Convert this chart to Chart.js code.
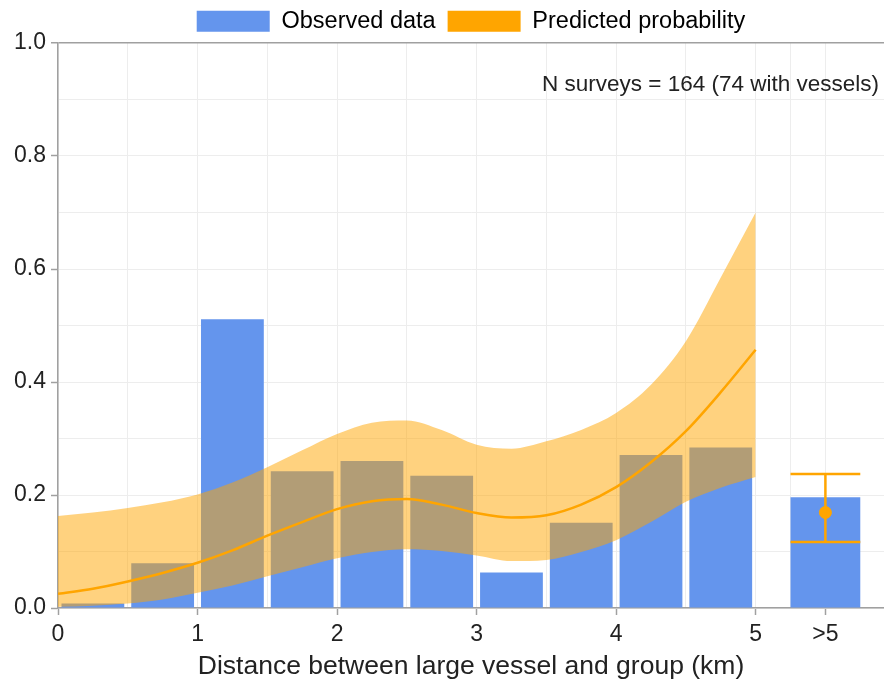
<!DOCTYPE html>
<html>
<head>
<meta charset="utf-8">
<script src="https://cdn.jsdelivr.net/npm/chart.js@4/dist/chart.umd.min.js"></script>
<style>
  html, body { margin: 0; padding: 0; background: #fff; }
  #wrap { width: 884px; height: 687px; }
</style>
</head>
<body>
<div id="wrap"><canvas id="c" width="884" height="687"></canvas></div>
<script>
// Observed proportion of surveys with a vessel, binned by distance (0.5 km bins)
const binCenters = [0.25, 0.75, 1.25, 1.75, 2.25, 2.75, 3.25, 3.75, 4.25, 4.75];
const observed   = [0.008, 0.079, 0.511, 0.242, 0.260, 0.234, 0.063, 0.151, 0.271, 0.284];

// Surveys beyond 5 km, shown as a separate category
const overPosition = 5.5;
const overHalfWidth = 0.25;
const overObserved = 0.196;
const overPredicted = 0.169;
const overLower = 0.117;
const overUpper = 0.237;

// Fitted curve with its confidence band
const curveX    = [0, 0.25, 0.5, 0.75, 1, 1.25, 1.5, 1.75, 2, 2.25, 2.5, 2.75, 3, 3.25, 3.5, 3.75, 4, 4.25, 4.5, 4.75, 5];
const predicted = [0.025, 0.034, 0.047, 0.062, 0.080, 0.102, 0.128, 0.152, 0.175, 0.189, 0.193, 0.183, 0.168, 0.160, 0.164, 0.183, 0.214, 0.258, 0.313, 0.382, 0.457];
const upperCI   = [0.163, 0.169, 0.177, 0.187, 0.201, 0.222, 0.249, 0.279, 0.308, 0.328, 0.332, 0.315, 0.289, 0.282, 0.295, 0.315, 0.345, 0.395, 0.472, 0.585, 0.700];
const lowerCI   = [0.002, 0.004, 0.008, 0.015, 0.027, 0.040, 0.056, 0.072, 0.088, 0.099, 0.104, 0.101, 0.093, 0.083, 0.085, 0.099, 0.120, 0.152, 0.188, 0.213, 0.232];

// X axis: grid positions and the labels shown at some of them
const xGridValues = [0, 0.5, 1, 1.5, 2, 2.5, 3, 3.5, 4, 4.5, 5, 5.25, 5.5];
const xTickLabels = { 0: '0', 1: '1', 2: '2', 3: '3', 4: '4', 5: '5', 5.5: '>5' };

const legendLabels = ['Observed data', 'Predicted probability'];
const noteText = 'N surveys = 164 (74 with vessels)';
const xTitle = 'Distance between large vessel and group (km)';

const BLUE = '#6495ED';
const ORANGE = '#FFA500';
const BAND = 'rgba(255,165,0,0.5)';
const AXIS = '#a0a0a0';
const GRID = '#ededed';
const TEXT = '#222222';
const FONT = "'Liberation Sans', Arial, sans-serif";

const pts = (xs, ys) => xs.map((x, i) => ({ x, y: ys[i] }));

// Survey count note in the top right corner of the plot
const notePlugin = {
  id: 'note',
  afterDraw(chart) {
    const { ctx, chartArea } = chart;
    ctx.save();
    ctx.font = '22.5px ' + FONT;
    ctx.fillStyle = TEXT;
    ctx.textAlign = 'right';
    ctx.textBaseline = 'middle';
    ctx.fillText(noteText, chartArea.right - 5, chartArea.top + 42);
    ctx.restore();
  }
};

new Chart(document.getElementById('c'), {
  type: 'bar',
  data: {
    datasets: [
      {
        label: legendLabels[0],
        data: pts(binCenters, observed),
        backgroundColor: BLUE,
        grouped: false,
        // tick spacing near ">5" is 0.25, so widths are relative to that
        categoryPercentage: 1,
        barPercentage: 1.8,
        order: 5
      },
      {
        label: '>5',
        data: [{ x: overPosition, y: overObserved }],
        backgroundColor: BLUE,
        grouped: false,
        categoryPercentage: 1,
        barPercentage: 2,
        order: 5
      },
      {
        type: 'line',
        label: 'upper',
        data: pts(curveX, upperCI),
        borderWidth: 0,
        borderColor: 'rgba(0,0,0,0)',
        pointRadius: 0,
        cubicInterpolationMode: 'monotone',
        backgroundColor: BAND,
        fill: '+1',
        order: 3
      },
      {
        type: 'line',
        label: 'lower',
        data: pts(curveX, lowerCI),
        borderWidth: 0,
        borderColor: 'rgba(0,0,0,0)',
        pointRadius: 0,
        cubicInterpolationMode: 'monotone',
        fill: false,
        order: 3
      },
      {
        type: 'line',
        label: legendLabels[1],
        data: pts(curveX, predicted),
        borderColor: ORANGE,
        borderWidth: 2.5,
        pointRadius: 0,
        cubicInterpolationMode: 'monotone',
        fill: false,
        order: 1
      },
      {
        type: 'line',
        label: 'err',
        data: [{ x: overPosition, y: overLower }, { x: overPosition, y: overUpper }],
        borderColor: ORANGE,
        borderWidth: 2.5,
        pointRadius: 0,
        fill: false,
        order: 0
      },
      {
        type: 'line',
        label: 'capHi',
        data: [{ x: overPosition - overHalfWidth, y: overUpper }, { x: overPosition + overHalfWidth, y: overUpper }],
        borderColor: ORANGE,
        borderWidth: 2.5,
        pointRadius: 0,
        fill: false,
        order: 0
      },
      {
        type: 'line',
        label: 'capLo',
        data: [{ x: overPosition - overHalfWidth, y: overLower }, { x: overPosition + overHalfWidth, y: overLower }],
        borderColor: ORANGE,
        borderWidth: 2.5,
        pointRadius: 0,
        fill: false,
        order: 0
      },
      {
        type: 'scatter',
        label: 'pt',
        data: [{ x: overPosition, y: overPredicted }],
        backgroundColor: ORANGE,
        borderColor: ORANGE,
        pointRadius: 6,
        order: 0
      }
    ]
  },
  options: {
    responsive: false,
    animation: false,
    layout: { autoPadding: false, padding: { top: -2.5, right: 0, bottom: 0, left: 0 } },
    plugins: {
      tooltip: { enabled: false },
      legend: {
        position: 'top',
        fullSize: false,
        onClick: null,
        labels: {
          boxWidth: 73,
          boxHeight: 21,
          padding: 12,
          color: TEXT,
          font: { family: FONT, size: 23.5, lineHeight: 1 },
          generateLabels: () => [
            { text: legendLabels[0], fillStyle: BLUE, strokeStyle: BLUE, lineWidth: 0, datasetIndex: 0 },
            { text: legendLabels[1], fillStyle: ORANGE, strokeStyle: ORANGE, lineWidth: 0, datasetIndex: 4 }
          ]
        }
      }
    },
    scales: {
      x: {
        type: 'linear',
        min: 0,
        max: 5.92,
        offset: false,
        afterBuildTicks: (scale) => { scale.ticks = xGridValues.map(v => ({ value: v })); },
        afterFit: (scale) => { scale.height = 79; },
        ticks: {
          autoSkip: false,
          maxRotation: 0,
          padding: 6,
          color: TEXT,
          font: { family: FONT, size: 23 },
          callback: (v) => (xTickLabels[v] !== undefined ? xTickLabels[v] : '')
        },
        grid: {
          offset: false,
          color: GRID,
          lineWidth: 1,
          tickLength: 7,
          tickWidth: 1.5,
          tickColor: (ctx) => (ctx.tick && xTickLabels[ctx.tick.value] !== undefined ? AXIS : 'rgba(0,0,0,0)')
        },
        border: { display: true, color: AXIS, width: 1.5 },
        title: {
          display: true,
          text: xTitle,
          color: TEXT,
          font: { family: FONT, size: 26.5 },
          padding: { top: 2, bottom: 4 }
        }
      },
      y: {
        min: 0,
        max: 1,
        afterFit: (scale) => { scale.width = 58; },
        ticks: {
          stepSize: 0.1,
          padding: 5,
          color: TEXT,
          font: { family: FONT, size: 23 },
          callback: (v) => (Math.round(v * 10) % 2 === 0 ? v.toFixed(1) : '')
        },
        grid: {
          color: (ctx) => (ctx.tick && Math.abs(ctx.tick.value - 1) < 1e-9 ? AXIS : GRID),
          lineWidth: (ctx) => (ctx.tick && Math.abs(ctx.tick.value - 1) < 1e-9 ? 1.5 : 1),
          tickLength: 7,
          tickWidth: 1.5,
          tickColor: (ctx) => (ctx.tick && Math.round(ctx.tick.value * 10) % 2 === 0 ? AXIS : 'rgba(0,0,0,0)')
        },
        border: { display: true, color: AXIS, width: 1.5 }
      }
    }
  },
  plugins: [notePlugin]
});
</script>
</body>
</html>
